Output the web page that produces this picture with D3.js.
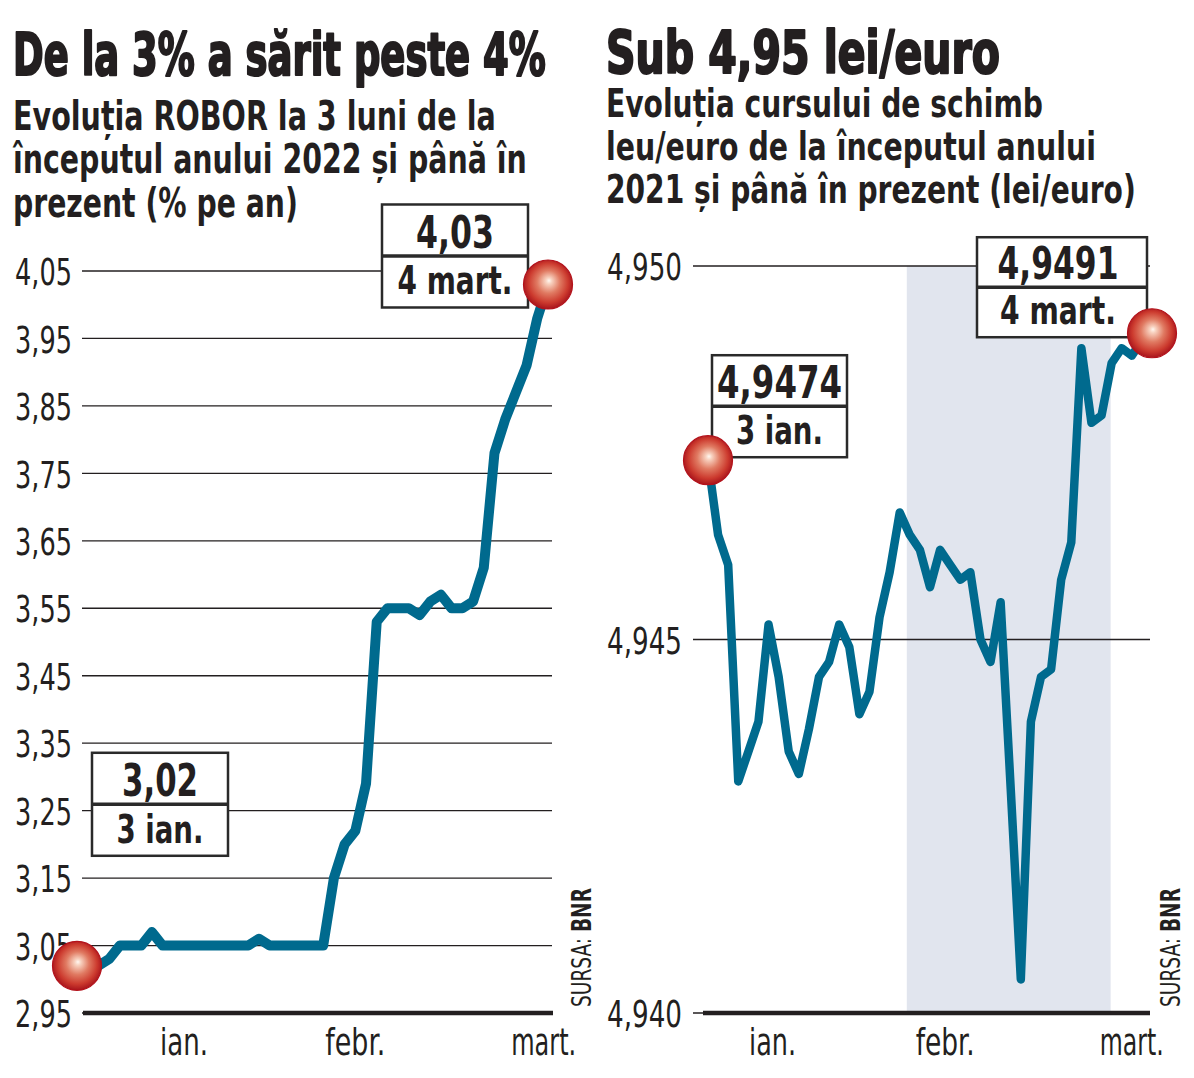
<!DOCTYPE html>
<html><head><meta charset="utf-8">
<script src="https://cdn.jsdelivr.net/npm/d3@7"></script>
<style>
body{margin:0;background:#fff}
svg{display:block}
text{font-family:"Liberation Sans Narrow","DejaVu Sans Condensed","Liberation Sans",sans-serif;fill:#231f20}
</style>
</head><body>
<svg id="c" width="1194" height="1078"></svg>
<script>
// ---------- DATA ----------
const roborValues = [3.02,3.02,3.02,3.03,3.05,3.05,3.05,3.07,3.05,3.05,
  3.05,3.05,3.05,3.05,3.05,3.05,3.05,3.06,3.05,3.05,
  3.05,3.05,3.05,3.05,3.15,3.20,3.22,3.29,3.53,3.55,
  3.55,3.55,3.54,3.56,3.57,3.55,3.55,3.56,3.61,3.78,
  3.83,3.87,3.91,3.98,4.03];
const fxValues = [4.9474,4.9464,4.9460,4.9431,4.9435,4.9439,4.9452,4.9445,4.9435,4.9432,
  4.9438,4.9445,4.9447,4.9452,4.9449,4.9440,4.9443,4.9453,4.9459,4.9467,
  4.9464,4.9462,4.9457,4.9462,4.9460,4.9458,4.9459,4.9450,4.9447,4.9455,
  4.9430,4.94045,4.9439,4.9445,4.9446,4.9458,4.9463,4.9489,4.9479,4.9480,
  4.9487,4.9489,4.9488,4.9490,4.9491];
const roborTicks = [2.95,3.05,3.15,3.25,3.35,3.45,3.55,3.65,3.75,3.85,3.95,4.05];
const fxTicks = [4.940,4.945,4.950];
const monthLabels = ["ian.","febr.","mart."];
const roborMonthIdx = [10,26,43.6];
const fxMonthIdx = [6.4,23.5,42];
const fxFebBand = [19.7,39.9];
const roborNotes = [["3,02","3 ian."],["4,03","4 mart."]];
const fxNotes = [["4,9474","3 ian."],["4,9491","4 mart."]];
const titles = ["De la 3% a sărit peste 4%","Sub 4,95 lei/euro"];
const roborSub = ["Evoluția ROBOR la 3 luni de la","începutul anului 2022 și până în","prezent (% pe an)"];
const fxSub = ["Evoluția cursului de schimb","leu/euro de la începutul anului","2021 și până în prezent (lei/euro)"];
const source = ["SURSA: ","BNR"];

// ---------- DRAW ----------
const svg = d3.select("#c");
const LINE = "#006a8e", INK = "#231f20";
// place a text at (x,y) and squeeze it horizontally to width w
function put(parent, x, y, w, size, weight, str, anchor, rot){
  const t = parent.append("text").attr("font-size",size).attr("font-weight",weight)
    .attr("text-anchor",anchor||"start");
  if (typeof str === "string") t.text(str); else str(t);
  const len = t.node().getComputedTextLength();
  const k = len>0 ? w/len : 1;
  t.attr("transform",`translate(${x},${y})${rot?` rotate(${rot})`:""} scale(${k},1)`);
  return t;
}

const defs = svg.append("defs");
const g = defs.append("radialGradient").attr("id","ball").attr("cx","50%").attr("cy","48%").attr("r","52%").attr("fx","52%").attr("fy","42%");
[[0,"#fff8f2"],[0.12,"#f8d2c0"],[0.45,"#e07a62"],[0.78,"#cc3a2e"],[1,"#a8141c"]].forEach(([o,c])=>g.append("stop").attr("offset",o).attr("stop-color",c));

// titles
put(svg,13,75,533,58,700,titles[0]).attr("stroke",INK).attr("stroke-width",2.2).attr("stroke-linejoin","round");
put(svg,606,73,394,58,700,titles[1]).attr("stroke",INK).attr("stroke-width",2.2).attr("stroke-linejoin","round");
const subW1 = [483,514,285], subY1=[130,173,217];
roborSub.forEach((t,i)=>put(svg,13,subY1[i],subW1[i],41,700,t));
const subW2 = [437,490,530], subY2=[117,160,203];
fxSub.forEach((t,i)=>put(svg,606,subY2[i],subW2[i],39,700,t));

function chart(o){
  const x = d3.scaleLinear().domain([0,o.values.length-1]).range(o.xr);
  const y = d3.scaleLinear().domain(o.yd).range(o.yr);
  const G = svg.append("g");
  if(o.band){
    G.append("rect").attr("x",x(o.band[0])).attr("width",x(o.band[1])-x(o.band[0]))
      .attr("y",y(o.yd[1])).attr("height",y(o.yd[0])-y(o.yd[1])).attr("fill","#e1e5ee");
  }
  const ax = d3.axisLeft(y).tickValues(o.ticks).tickSize(0).tickPadding(0)
    .tickFormat(d=>d3.format(o.fmt)(d).replace(".",","));
  const axg = G.append("g").attr("transform",`translate(${o.labelX},0)`).call(ax);
  axg.select(".domain").remove();
  axg.selectAll("text").attr("font-size",38).attr("fill",INK).attr("dy","0.36em")
     .style("font-family",'"Liberation Sans Narrow","DejaVu Sans Condensed",sans-serif')
     .attr("textLength",o.tickW).attr("lengthAdjust","spacingAndGlyphs");
  G.append("g").selectAll("line").data(o.ticks).join("line")
    .attr("x1",o.gx[0]).attr("x2",o.gx[1]).attr("y1",d=>y(d)).attr("y2",d=>y(d))
    .attr("stroke",INK).attr("stroke-width",1.3);
  G.append("line").attr("x1",o.bx[0]).attr("x2",o.bx[1]).attr("y1",y(o.yd[0])).attr("y2",y(o.yd[0]))
    .attr("stroke",INK).attr("stroke-width",4.5);
  const mg = G.append("g");
  monthLabels.forEach((m,i)=>put(mg,x(o.monthIdx[i]),1055,o.monthW[i],38,400,m,"middle"));
  G.append("path").datum(o.values)
    .attr("d",d3.line().x((d,i)=>x(i)).y(d=>y(d)))
    .attr("fill","none").attr("stroke",LINE).attr("stroke-width",o.lw)
    .attr("stroke-linejoin","round").attr("stroke-linecap","round");
  const n = o.values.length-1;
  o.boxes.forEach((b,k)=>{
    const idx = k===0?0:n;
    const px = x(idx), py = y(o.values[idx]);
    const bx = px + b.dx, by = py + b.dy;
    const bg = G.append("g");
    bg.append("rect").attr("x",bx).attr("y",by).attr("width",b.w).attr("height",b.h)
      .attr("fill","#fff").attr("stroke","#2a2a2a").attr("stroke-width",2.5);
    bg.append("line").attr("x1",bx).attr("x2",bx+b.w).attr("y1",by+b.h/2).attr("y2",by+b.h/2)
      .attr("stroke","#2a2a2a").attr("stroke-width",3.5);
    put(bg,bx+b.w/2+b.tx,by+b.h/2-8,b.w1,45,700,b.t[0],"middle");
    put(bg,bx+b.w/2+b.tx,by+b.h-13,b.w2,39,700,b.t[1],"middle");
  });
  [0,n].forEach(i=>{
    G.append("circle").attr("cx",x(i)).attr("cy",y(o.values[i])).attr("r",24.5)
      .attr("fill","url(#ball)").attr("stroke","#b3121b").attr("stroke-width",1.2);
  });
  put(G,o.srcX,1007,119,26,400,t=>{
    t.append("tspan").text(source[0]);
    t.append("tspan").attr("font-weight",700).text(source[1]);
  },"start",-90);
}

chart({values:roborValues, xr:[77,548], yd:[2.95,4.05], yr:[1013,271], ticks:roborTicks, fmt:".2f",
  labelX:72, tickW:57, gx:[82,552], bx:[83,553], monthIdx:roborMonthIdx, monthW:[48,60,65], lw:10, srcX:591,
  boxes:[{t:roborNotes[0],dx:15,dy:-213,w:136,h:103,w1:76,w2:87,tx:0},
         {t:roborNotes[1],dx:-166,dy:-80,w:146,h:103,w1:78,w2:115,tx:0}]});
chart({values:fxValues, xr:[708,1152], yd:[4.940,4.950], yr:[1013,266], ticks:fxTicks, fmt:".3f",
  labelX:682, tickW:75, gx:[693,1150], bx:[703,1150], monthIdx:fxMonthIdx, monthW:[47,59,64], band:fxFebBand, lw:8.5, srcX:1180,
  boxes:[{t:fxNotes[0],dx:4,dy:-105,w:135,h:102,w1:125,w2:87,tx:0},
         {t:fxNotes[1],dx:-175,dy:-96,w:170,h:100,w1:121,w2:116,tx:-4}]});
</script>
</body></html>
